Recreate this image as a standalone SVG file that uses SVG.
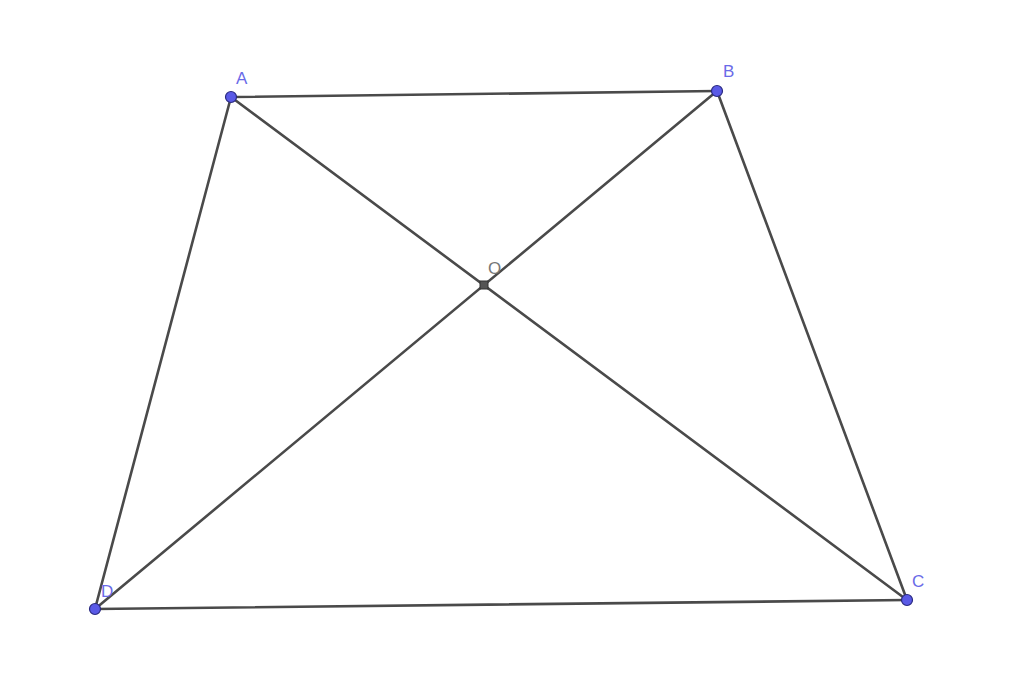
<svg xmlns="http://www.w3.org/2000/svg" width="1024" height="674" viewBox="0 0 1024 674">
<style>
.seg{stroke:#4a4a4a;stroke-width:2.6;fill:none;stroke-linecap:round}
.pt{fill:#5a5ae6;stroke:#2a2a80;stroke-width:1.2}
.lbl{font-family:"Liberation Sans",Arial,sans-serif;font-size:17px;fill:#6a6ae8}
.lblo{font-family:"Liberation Sans",Arial,sans-serif;font-size:17px;fill:#777}
</style>
<rect width="1024" height="674" fill="#fff"/>
<g id="connectors">
<line class="seg" x1="231" y1="97" x2="717" y2="91"/>
<line class="seg" x1="717" y1="91" x2="907" y2="600"/>
<line class="seg" x1="907" y1="600" x2="95" y2="609"/>
<line class="seg" x1="95" y1="609" x2="231" y2="97"/>
<line class="seg" x1="231" y1="97" x2="907" y2="600"/>
<line class="seg" x1="717" y1="91" x2="95" y2="609"/>
</g>
<g id="A"><circle class="pt" cx="231" cy="97" r="5.5"/><text class="lbl" x="236" y="84">A</text></g>
<g id="B"><circle class="pt" cx="717" cy="91" r="5.5"/><text class="lbl" x="723" y="77">B</text></g>
<g id="C"><circle class="pt" cx="907" cy="600" r="5.5"/><text class="lbl" x="912" y="587">C</text></g>
<g id="D"><circle class="pt" cx="95" cy="609" r="5.5"/><text class="lbl" x="101" y="597">D</text></g>
<g id="O"><rect x="480" y="281" width="8" height="8" fill="#555" stroke="#333" stroke-width="1"/><text class="lblo" x="488" y="274">O</text></g>
</svg>
